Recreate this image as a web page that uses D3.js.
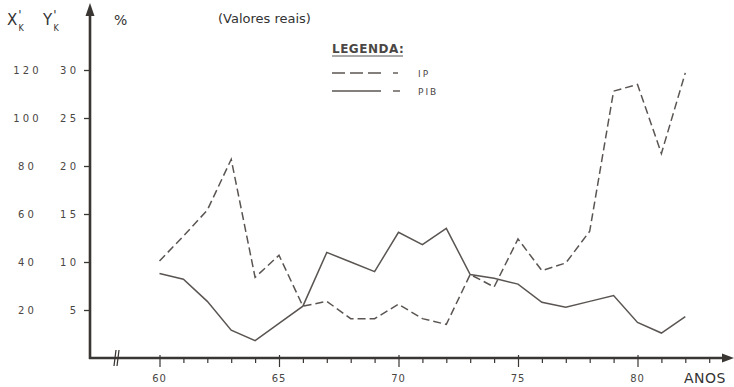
<!DOCTYPE html>
<html><head><meta charset="utf-8">
<script src="https://cdn.jsdelivr.net/npm/d3@7"></script>
<style>
body{margin:0;background:#fff;}
svg{display:block;font-family:"DejaVu Sans",sans-serif;}
</style></head>
<body><div id="chart"></div>
<script>
const years = d3.range(60, 83);
const ipValues  = [10.1,12.7,15.4,20.7,8.4,10.7,5.4,5.9,4.1,4.1,5.6,4.1,3.5,8.7,7.4,12.4,9.1,9.9,13.2,27.8,28.5,21.3,29.7];
const pibValues = [8.8,8.2,5.9,2.9,1.8,3.6,5.4,11.0,10.0,9.0,13.1,11.8,13.5,8.7,8.3,7.7,5.8,5.3,5.9,6.5,3.7,2.6,4.3];
const yTicks = [5,10,15,20,25,30];
const yTickLabelsRight = ["5","1 0","1 5","2 0","2 5","3 0"];
const yTickLabelsLeft = ["2 0","4 0","6 0","8 0","1 0 0","1 2 0"];
const xMajor = [60,65,70,75,80];
const xMinor = d3.range(60, 84);

const W = 734, H = 387;
const svg = d3.select("#chart").append("svg").attr("width", W).attr("height", H);
const ink = "#3a3634", lineInk = "#5a5552", txt = "#4a4644";

const x = d3.scaleLinear().domain([60, 80]).range([159.5, 637.5]);
const y = d3.scaleLinear().domain([0, 30]).range([358, 70]);
const x0 = 90, y0 = 358;

// axes lines with arrows
svg.append("line").attr("x1", x0).attr("y1", y0+1).attr("x2", x0).attr("y2", 12)
  .attr("stroke", ink).attr("stroke-width", 2.6);
svg.append("path").attr("d", `M${x0-4.5},16 L${x0},3 L${x0+4.5},16 Z`).attr("fill", ink);
svg.append("line").attr("x1", x0-1).attr("y1", y0).attr("x2", 726).attr("y2", y0)
  .attr("stroke", ink).attr("stroke-width", 2.6);
svg.append("path").attr("d", `M722,${y0-4.5} L734,${y0} L722,${y0+4.5} Z`).attr("fill", ink);

// axis break
[115, 118].forEach(bx => svg.append("line").attr("x1", bx+1).attr("y1", y0-8).attr("x2", bx-1).attr("y2", y0+8)
  .attr("stroke", ink).attr("stroke-width", 1.3));

// x ticks via axis
const xAxis = d3.axisBottom(x).tickValues(xMinor).tickSize(5).tickFormat("");
const gx = svg.append("g").attr("transform", `translate(0,${y0})`).call(xAxis);
gx.select(".domain").remove();
gx.selectAll(".tick line").attr("stroke", ink).attr("stroke-width", 1.2)
  .attr("y1", d => xMajor.includes(d) ? -3 : 0)
  .attr("y2", d => xMajor.includes(d) ? 9 : 5);
svg.selectAll(".xlab").data(xMajor).enter().append("text")
  .attr("x", d => x(d)).attr("y", 382).attr("text-anchor", "middle")
  .attr("font-size", 10).attr("letter-spacing", 1).attr("fill", txt).text(d => d);
svg.append("text").attr("x", 705).attr("y", 383).attr("text-anchor", "middle")
  .attr("font-size", 14).attr("letter-spacing", 0.5).attr("fill", "#333").text("ANOS");

// y ticks via axis
const yAxis = d3.axisLeft(y).tickValues(yTicks).tickSize(5).tickFormat("");
const gy = svg.append("g").attr("transform", `translate(${x0-1},0)`).call(yAxis);
gy.select(".domain").remove();
gy.selectAll(".tick line").attr("stroke", ink).attr("stroke-width", 1.3);
svg.selectAll(".ylr").data(yTicks).enter().append("text")
  .attr("x", 76).attr("y", d => y(d) + 4).attr("text-anchor", "end")
  .attr("font-size", 10).attr("fill", txt).text((d,i) => yTickLabelsRight[i]);
svg.selectAll(".yll").data(yTicks).enter().append("text")
  .attr("x", 26).attr("y", d => y(d) + 4).attr("text-anchor", "middle")
  .attr("font-size", 10).attr("fill", txt).text((d,i) => yTickLabelsLeft[i]);

// headers
function subLabel(xp, letter){
  const t = svg.append("text").attr("x", xp).attr("y", 25).attr("font-size", 15).attr("fill", "#333");
  t.append("tspan").text(letter);
  t.append("tspan").attr("dy", -6).attr("dx", 1).attr("font-size", 12).text("'");
  t.append("tspan").attr("dy", 12).attr("dx", -3).attr("font-size", 8).text("K");
}
subLabel(7, "X");
subLabel(43, "Y");
svg.append("text").attr("x", 114).attr("y", 25).attr("font-size", 14).attr("fill", "#333").text("%");
svg.append("text").attr("x", 218).attr("y", 23).attr("font-size", 13).attr("fill", "#333").text("(Valores reais)");

// legend
svg.append("text").attr("x", 332).attr("y", 53).attr("font-size", 12).attr("font-weight", "bold")
  .attr("letter-spacing", 0.5).attr("fill", "#4a4644").text("LEGENDA:");
svg.append("line").attr("x1", 332).attr("y1", 56).attr("x2", 403).attr("y2", 56).attr("stroke", "#555").attr("stroke-width", 1);
svg.append("line").attr("x1", 332).attr("y1", 73).attr("x2", 381).attr("y2", 73)
  .attr("stroke", lineInk).attr("stroke-width", 1.4).attr("stroke-dasharray", "13,5");
svg.append("line").attr("x1", 393).attr("y1", 73).attr("x2", 398).attr("y2", 73).attr("stroke", lineInk).attr("stroke-width", 1.4);
svg.append("text").attr("x", 418).attr("y", 77).attr("font-size", 9).attr("letter-spacing", 2).attr("fill", txt).text("IP");
svg.append("line").attr("x1", 332).attr("y1", 91).attr("x2", 381).attr("y2", 91).attr("stroke", lineInk).attr("stroke-width", 1.4);
svg.append("line").attr("x1", 393).attr("y1", 91).attr("x2", 400).attr("y2", 91).attr("stroke", lineInk).attr("stroke-width", 1.4);
svg.append("text").attr("x", 418).attr("y", 95).attr("font-size", 9).attr("letter-spacing", 2).attr("fill", txt).text("PIB");

// series
const line = d3.line().x(d => x(d[0])).y(d => y(d[1]));
svg.append("path").datum(years.map((yr,i) => [yr, ipValues[i]])).attr("d", line)
  .attr("fill", "none").attr("stroke", lineInk).attr("stroke-width", 1.5).attr("stroke-dasharray", "8,4");
svg.append("path").datum(years.map((yr,i) => [yr, pibValues[i]])).attr("d", line)
  .attr("fill", "none").attr("stroke", lineInk).attr("stroke-width", 1.5);
</script></body></html>
